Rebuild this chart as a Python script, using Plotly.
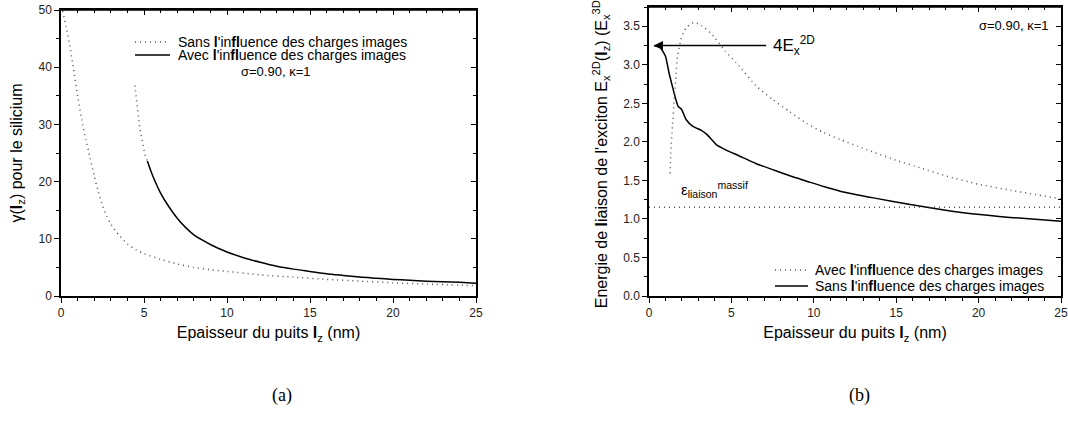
import plotly.graph_objects as go

# ---------- Data: panel (a) ----------
a_sans_x = [0.1, 0.3, 0.5, 0.75, 1.0, 1.25, 1.5, 1.75, 2.0, 2.25, 2.5, 2.75, 3.0, 3.5, 4.0, 4.5, 5, 6, 7, 8, 9, 10, 12, 14, 16, 18, 20, 22, 25]
a_sans_y = [49.8, 47.2, 44.2, 39.8, 35.0, 30.8, 27.3, 24.2, 21.0, 18.2, 15.8, 14.0, 12.6, 10.6, 9.1, 8.1, 7.4, 6.4, 5.6, 5.0, 4.6, 4.3, 3.7, 3.3, 2.9, 2.6, 2.3, 2.1, 1.8]
a_avec_dot_x = [4.45, 4.6, 4.75, 4.9, 5.05, 5.2]
a_avec_dot_y = [36.8, 33.0, 29.3, 27.0, 24.8, 23.6]
a_avec_x = [5.2, 5.5, 6, 6.5, 7, 7.5, 8, 8.5, 9, 9.5, 10, 11, 12, 13, 14, 15, 16, 17, 18, 19, 20, 21, 22, 23, 24, 25]
a_avec_y = [23.6, 21.2, 18.0, 15.6, 13.6, 12.0, 10.7, 9.8, 9.0, 8.3, 7.7, 6.7, 5.9, 5.2, 4.7, 4.3, 3.9, 3.6, 3.3, 3.1, 2.9, 2.75, 2.6, 2.5, 2.4, 2.25]

# ---------- Data: panel (b) ----------
b_avec_x = [1.28, 1.32, 1.42, 1.53, 1.63, 1.73, 1.94, 2.25, 2.72, 3.18, 3.8, 4.62, 5.45, 6.48, 7.5, 8.54, 9.57, 10.6, 11.6, 12.7, 13.7, 15, 16.5, 18, 20, 22, 25]
b_avec_y = [1.59, 1.85, 2.20, 2.55, 2.85, 3.11, 3.33, 3.48, 3.55, 3.51, 3.40, 3.18, 2.99, 2.73, 2.55, 2.39, 2.24, 2.12, 2.03, 1.94, 1.86, 1.76, 1.66, 1.56, 1.45, 1.37, 1.26]
b_sans_x = [0.3, 0.7, 1.0, 1.22, 1.42, 1.63, 1.77, 1.98, 2.25, 2.66, 3.18, 3.49, 3.8, 4.1, 4.62, 5.45, 6.48, 7.5, 8.54, 9.57, 10.6, 11.6, 13.7, 15.76, 17.8, 19.9, 21.9, 25]
b_sans_y = [3.25, 3.22, 3.11, 2.89, 2.72, 2.55, 2.46, 2.42, 2.29, 2.2, 2.15, 2.1, 2.03, 1.96, 1.9, 1.82, 1.72, 1.64, 1.56, 1.49, 1.42, 1.36, 1.27, 1.19, 1.12, 1.06, 1.02, 0.97]
b_massif_x = [0, 25]
b_massif_y = [1.15, 1.15]
b_arrow_level = 3.25

x_ticks = [0, 5, 10, 15, 20, 25]
a_yticks = [0, 10, 20, 30, 40, 50]
b_yticks = [0.0, 0.5, 1.0, 1.5, 2.0, 2.5, 3.0, 3.5]
b_ytick_text = ["0.0", "0.5", "1.0", "1.5", "2.0", "2.5", "3.0", "3.5"]

a_legend = ["Sans <b>l</b>'in<b>fl</b>uence des charges images", "Avec <b>l</b>'in<b>fl</b>uence des charges images"]
b_legend = ["Avec <b>l</b>'in<b>fl</b>uence des charges images", "Sans <b>l</b>'in<b>fl</b>uence des charges images"]

FONT = "Liberation Sans, Arial, sans-serif"
DOT = "1px,4px"
DOTCOL = "#555555"

W, H = 1068, 441

def px(p):
    return min(1.0, max(0.0, p / W))

def py(p):
    return min(1.0, max(0.0, 1 - p / H))

fig = go.Figure()

# panel (a)  (traces spread over main and mirror axes so that mirror axes get drawn)
fig.add_trace(go.Scatter(x=a_sans_x, y=a_sans_y, mode="lines", showlegend=False, line_shape="spline",
                         line=dict(color=DOTCOL, width=1.5, dash=DOT, smoothing=0.6), xaxis="x", yaxis="y3"))
fig.add_trace(go.Scatter(x=a_avec_x, y=a_avec_y, mode="lines", showlegend=False, line_shape="spline",
                         line=dict(color="black", width=1.5, smoothing=0.6), xaxis="x", yaxis="y"))
fig.add_trace(go.Scatter(x=a_avec_dot_x, y=a_avec_dot_y, mode="lines", showlegend=False,
                         line=dict(color=DOTCOL, width=1.5, dash=DOT), xaxis="x3", yaxis="y"))

# panel (b)
fig.add_trace(go.Scatter(x=b_avec_x, y=b_avec_y, mode="lines", showlegend=False, line_shape="spline",
                         line=dict(color=DOTCOL, width=1.5, dash=DOT, smoothing=0.5), xaxis="x2", yaxis="y4"))
fig.add_trace(go.Scatter(x=b_sans_x, y=b_sans_y, mode="lines", showlegend=False, line_shape="spline",
                         line=dict(color="black", width=1.5, smoothing=0.5), xaxis="x2", yaxis="y2"))
fig.add_trace(go.Scatter(x=b_massif_x, y=b_massif_y, mode="lines", showlegend=False,
                         line=dict(color=DOTCOL, width=1.5, dash=DOT), xaxis="x4", yaxis="y2"))

ax_dom = [px(61), px(476)]
bx_dom = [px(649), px(1061)]
ay_dom = [py(296), py(10)]
by_dom = [py(296), py(7)]
b_yrange = [0, 3.75]

tickfont = dict(family=FONT, size=12, color="#222222")
titlefont = dict(family=FONT, size=16, color="black")

def xaxis(dom, anchor, **kw):
    d = dict(domain=dom, anchor=anchor, range=[0, 25], tickvals=x_ticks, ticks="outside", ticklen=5, tickwidth=1,
             tickcolor="black", showline=True, mirror=True, linecolor="black", linewidth=1.5, showgrid=False,
             zeroline=False, automargin=False, tickfont=tickfont, ticklabeloverflow="allow",
             minor=dict(dtick=1, ticks="outside", ticklen=3, tickcolor="black", showgrid=False))
    d.update(kw)
    return d

def yaxis(dom, anchor, rng, vals, mdt, **kw):
    d = dict(domain=dom, anchor=anchor, range=rng, tickvals=vals, ticks="outside", ticklen=5, tickcolor="black",
             showline=True, linecolor="black", linewidth=1.5, showgrid=False, zeroline=False, automargin=False,
             tickfont=tickfont, ticklabeloverflow="allow",
             minor=dict(dtick=mdt, ticks="outside", ticklen=3, tickcolor="black", showgrid=False))
    d.update(kw)
    return d

def top_x(over, anchor):
    return dict(overlaying=over, anchor=anchor, side="top", range=[0, 25], tickvals=x_ticks,
                ticks="inside", ticklen=5, tickcolor="black", showline=True, linecolor="black", linewidth=1.5,
                showgrid=False, zeroline=False, automargin=False, showticklabels=False,
                minor=dict(dtick=1, ticks="inside", ticklen=3, tickcolor="black", showgrid=False))

def mirror_y(over, anchor, rng, vals, mdt):
    return dict(overlaying=over, anchor=anchor, side="right", range=rng, tickvals=vals, ticks="inside", ticklen=5,
                tickcolor="black", showline=True, linecolor="black", linewidth=1.5, showgrid=False, zeroline=False,
                automargin=False, showticklabels=False,
                minor=dict(dtick=mdt, ticks="inside", ticklen=3, tickcolor="black", showgrid=False))

fig.update_layout(
    width=W, height=H,
    margin=dict(l=0, r=0, t=0, b=0, autoexpand=False),
    paper_bgcolor="white", plot_bgcolor="rgba(0,0,0,0)",
    font=dict(family=FONT, color="black"),
    showlegend=False,
    xaxis=xaxis(ax_dom, "y", title=dict(text="Epaisseur du puits <b>l</b><sub>z</sub> (nm)", font=titlefont, standoff=8)),
    yaxis=yaxis(ay_dom, "x", [0, 50], a_yticks, 5,
                title=dict(text="γ(<b>l</b><sub>z</sub>) pour le silicium", font=titlefont, standoff=12)),
    xaxis2=xaxis(bx_dom, "y2", title=dict(text="Epaisseur du puits <b>l</b><sub>z</sub> (nm)", font=titlefont, standoff=8)),
    yaxis2=yaxis(by_dom, "x2", b_yrange, b_yticks, 0.25, ticktext=b_ytick_text,
                 title=dict(text="Energie de <b>l</b>iaison de l'exciton E<sub>x</sub><sup>2D</sup>(<b>l</b><sub>z</sub>) (E<sub>x</sub><sup>3D</sup>)",
                            font=dict(family=FONT, size=16, color="black"), standoff=12)),
    xaxis3=top_x("x", "y"),
    yaxis3=mirror_y("y", "x", [0, 50], a_yticks, 5),
    xaxis4=top_x("x2", "y2"),
    yaxis4=mirror_y("y2", "x2", b_yrange, b_yticks, 0.25),
)

ann = [
    dict(text="σ=0.90, κ=1", x=12.9, y=39.2, xref="x", yref="y", showarrow=False, font=dict(family=FONT, size=13)),
    dict(text="σ=0.90, κ=1", x=22.1, y=3.51, xref="x2", yref="y2", showarrow=False, font=dict(family=FONT, size=13)),
    dict(text="", x=0.3, y=b_arrow_level, ax=7.2, ay=b_arrow_level, xref="x2", yref="y2", axref="x2", ayref="y2",
         showarrow=True, arrowhead=2, arrowsize=1.2, arrowwidth=1.5, arrowcolor="black"),
    dict(text="4E<sub>x</sub><sup>2D</sup>", x=7.4, y=b_arrow_level, xref="x2", yref="y2", xanchor="left", showarrow=False,
         font=dict(family=FONT, size=17)),
    dict(text="ε<sub>liaison</sub><sup>massif</sup>", x=1.8, y=1.38, xref="x2", yref="y2", xanchor="left", showarrow=False,
         font=dict(family=FONT, size=15)),
    dict(text="(a)", x=px(270), y=py(408), xref="paper", yref="paper", showarrow=False,
         font=dict(family="Liberation Serif, Times New Roman, serif", size=18)),
    dict(text="(b)", x=px(872), y=py(408), xref="paper", yref="paper", showarrow=False,
         font=dict(family="Liberation Serif, Times New Roman, serif", size=18)),
]

# manual legends (keys: line sample + label)
legend_rows = [
    (a_legend, [("dot", 135, 170, 42), ("solid", 135, 170, 55)], 176),
    (b_legend, [("dot", 775, 808, 270), ("solid", 775, 808, 286)], 813),
]
shapes = []
for labels, keys, tx in legend_rows:
    for lab, (style, x0, x1, yy) in zip(labels, keys):
        shapes.append(dict(type="line", xref="paper", yref="paper", x0=px(x0), x1=px(x1), y0=py(yy), y1=py(yy),
                           line=dict(color=DOTCOL if style == "dot" else "black", width=1.5,
                                     dash=DOT if style == "dot" else "solid")))
        ann.append(dict(text=lab, x=px(tx), y=py(yy), xref="paper", yref="paper", xanchor="left", yanchor="middle",
                        showarrow=False, font=dict(family=FONT, size=14, color="black")))

# top frame line of each panel (plot-area border)
for xr, yr in (("x domain", "y domain"), ("x2 domain", "y2 domain")):
    shapes.append(dict(type="line", xref=xr, yref=yr, x0=0, x1=1, y0=1, y1=1,
                       line=dict(color="black", width=1.5)))

fig.update_layout(annotations=ann, shapes=shapes)

fig.write_html("out.html", config={"displayModeBar": False},
               post_script="document.body.style.margin='0';")
